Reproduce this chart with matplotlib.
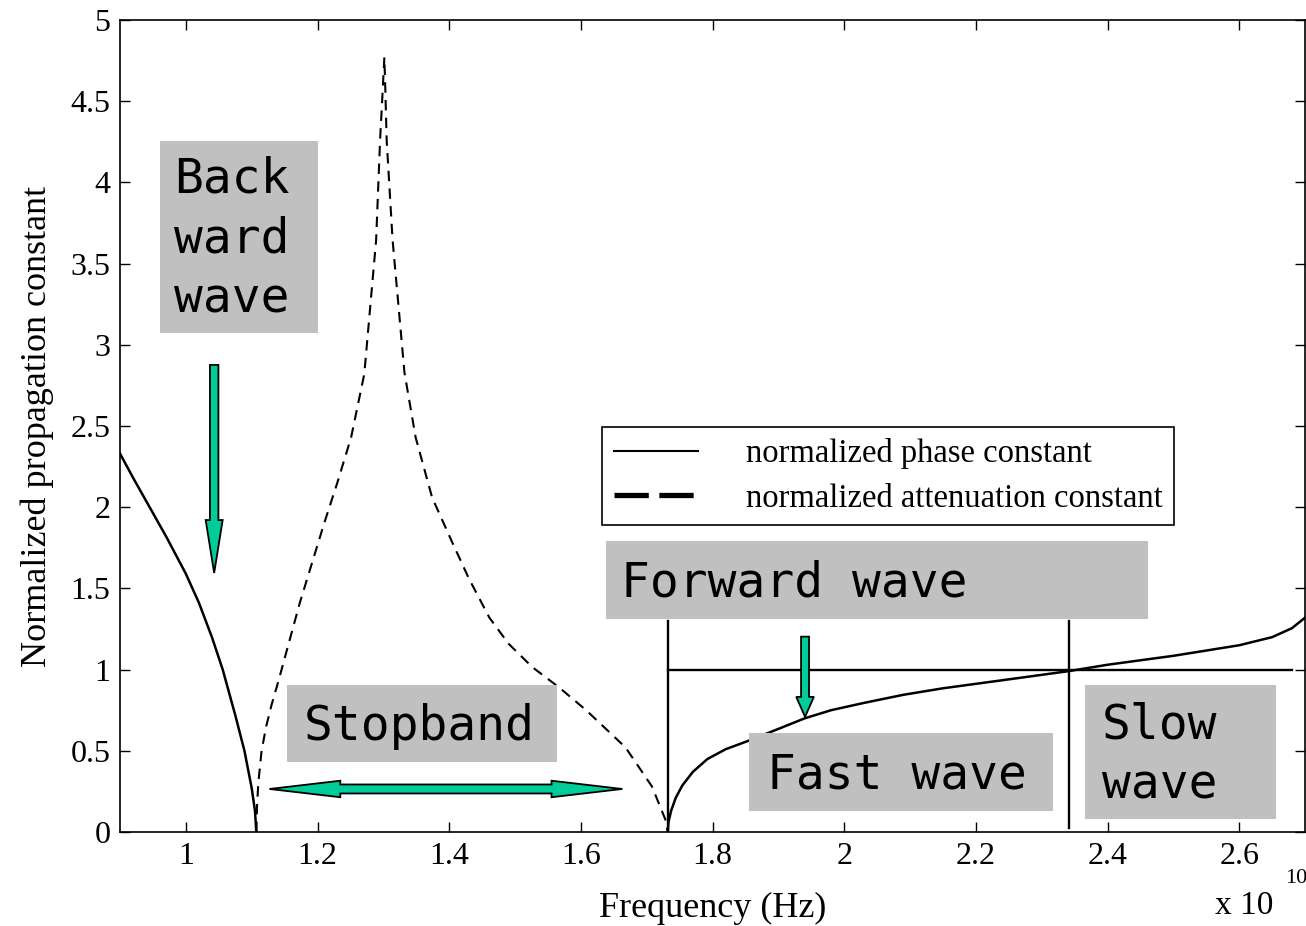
import matplotlib
matplotlib.use('Agg')
import matplotlib.pyplot as plt
import matplotlib.patches as mpatches
from matplotlib.lines import Line2D

# Values (frequency in units of 1e10 Hz)
beta_back_freq = [0.900, 0.920, 0.945, 0.970, 1.000, 1.020, 1.040, 1.056, 1.075,
                  1.089, 1.100, 1.105, 1.107]
beta_back = [2.33, 2.18, 2.00, 1.82, 1.59, 1.41, 1.195, 1.00, 0.72,
             0.50, 0.27, 0.13, 0.00]

alpha_freq = [1.107, 1.108, 1.110, 1.115, 1.122, 1.130, 1.142, 1.173, 1.210, 1.230,
              1.251, 1.271, 1.289, 1.295, 1.299, 1.3015, 1.303, 1.305, 1.314, 1.332,
              1.349, 1.374, 1.405, 1.430, 1.461, 1.490, 1.526, 1.567, 1.608, 1.668,
              1.708, 1.729, 1.732]
alpha = [0.00, 0.15, 0.30, 0.50, 0.65, 0.78, 0.95, 1.41, 1.90, 2.15,
         2.43, 2.82, 3.645, 4.26, 4.57, 4.77, 4.57, 4.26, 3.645, 2.83,
         2.43, 2.06, 1.78, 1.56, 1.32, 1.16, 1.016, 0.89, 0.75, 0.52,
         0.28, 0.07, 0.00]

beta_fwd_freq = [1.732, 1.733, 1.737, 1.744, 1.754, 1.770, 1.792, 1.820, 1.854, 1.900,
                 1.940, 1.980, 2.030, 2.090, 2.150, 2.250, 2.340, 2.400, 2.500, 2.600,
                 2.650, 2.680, 2.700]
beta_fwd = [0.00, 0.06, 0.13, 0.21, 0.286, 0.37, 0.449, 0.51, 0.561, 0.635,
            0.70, 0.75, 0.795, 0.845, 0.885, 0.94, 0.99, 1.03, 1.085, 1.15,
            1.20, 1.255, 1.32]

x_ticks = [1.0, 1.2, 1.4, 1.6, 1.8, 2.0, 2.2, 2.4, 2.6]
x_tick_labels = ['1', '1.2', '1.4', '1.6', '1.8', '2', '2.2', '2.4', '2.6']
y_ticks = [0, 0.5, 1, 1.5, 2, 2.5, 3, 3.5, 4, 4.5, 5]
y_tick_labels = ['0', '0.5', '1', '1.5', '2', '2.5', '3', '3.5', '4', '4.5', '5']

f_cutoff = 1.733   # start of forward band
f_light = 2.341    # where beta crosses 1
beta_light = 1.0
f_line_end = 2.68
marker_top = 1.30

legend_labels = ['normalized phase constant', 'normalized attenuation constant']

# annotation boxes: text, x0, x1, y0, y1, text x, last baseline y
boxes = [
    ('Back\nward\nwave', 0.9606, 1.200, 3.073, 4.255, 0.982, 3.20),
    ('Stopband', 1.153, 1.564, 0.431, 0.905, 1.179, 0.566),
    ('Forward wave', 1.638, 2.462, 1.312, 1.792, 1.661, 1.449),
    ('Fast wave', 1.856, 2.317, 0.131, 0.611, 1.883, 0.269),
    ('Slow\nwave', 2.365, 2.656, 0.078, 0.903, 2.391, 0.2075),
]

green = '#00cc99'
serif = 'Liberation Serif'
mono = 'DejaVu Sans Mono'

plt.rcParams['font.family'] = serif

fig = plt.figure(figsize=(13.06, 9.26), dpi=100)
ax = fig.add_axes([0.0919, 0.1015, 0.9074, 0.8769])

ax.plot(beta_back_freq, beta_back, color='black', lw=1.8)
ax.plot(beta_fwd_freq, beta_fwd, color='black', lw=1.8)
ax.plot(alpha_freq, alpha, color='black', lw=1.5, linestyle=(0, (5, 3.5)))

# region markers
ax.plot([f_cutoff, f_cutoff], [0, marker_top], color='black', lw=1.7)
ax.plot([f_light, f_light], [0.025, marker_top], color='black', lw=1.7)
ax.plot([f_cutoff, f_line_end], [beta_light, beta_light], color='black', lw=1.7)

for text, x0, x1, y0, y1, tx, ty in boxes:
    ax.add_patch(mpatches.Rectangle((x0, y0), x1 - x0, y1 - y0, facecolor='#c0c0c0',
                                    edgecolor='none', zorder=3))
    ax.text(tx, ty, text, family=mono, fontsize=34.5, va='baseline', ha='left',
            linespacing=1.35, zorder=4)

# green arrows
arrow_kw = dict(facecolor=green, edgecolor='black', lw=1.3, zorder=5,
                length_includes_head=True)
ax.add_patch(mpatches.FancyArrow(1.043, 2.876, 0, 1.595 - 2.876, width=0.0129,
                                 head_width=0.0258, head_length=0.326, **arrow_kw))
ax.add_patch(mpatches.FancyArrow(1.9405, 1.203, 0, 0.709 - 1.203, width=0.0121,
                                 head_width=0.0268, head_length=0.123, **arrow_kw))

# double headed arrow across the stopband
xa, xb, ya = 1.127, 1.663, 0.265
sh, hh, hl = 0.0277, 0.0508, 0.1076
verts = [(xa, ya), (xa + hl, ya + hh), (xa + hl, ya + sh), (xb - hl, ya + sh),
         (xb - hl, ya + hh), (xb, ya), (xb - hl, ya - hh), (xb - hl, ya - sh),
         (xa + hl, ya - sh), (xa + hl, ya - hh)]
ax.add_patch(mpatches.Polygon(verts, closed=True, facecolor=green, edgecolor='black',
                              lw=1.3, zorder=5))

ax.set_xlim(0.9, 2.7)
ax.set_ylim(0, 5)
ax.set_xticks(x_ticks)
ax.set_xticklabels(x_tick_labels)
ax.set_yticks(y_ticks)
ax.set_yticklabels(y_tick_labels)
ax.tick_params(direction='in', length=7, width=1.0, top=True, right=True,
               labelsize=23, pad=7)
for s in ax.spines.values():
    s.set_linewidth(1.2)

ax.set_xlabel('Frequency (Hz)', fontsize=26, labelpad=15)
ax.set_ylabel('Normalized propagation constant', fontsize=26, labelpad=12)

handles = [Line2D([], [], color='black', lw=1.5),
           Line2D([], [], color='black', lw=3.8, linestyle=(0, (6.5, 2)))]
leg = ax.legend(handles, legend_labels, loc='upper left', bbox_to_anchor=(0.4068, 0.4988),
                borderaxespad=0, fontsize=23.5, frameon=True, fancybox=False,
                edgecolor='black', framealpha=1, handlelength=2.6, handletextpad=1.45,
                borderpad=0.35, labelspacing=0.42)
leg.get_frame().set_linewidth(1.2)

fig.text(1215 / 1306, 0.013, 'x 10', fontsize=24, va='baseline', ha='left')
fig.text(1285 / 1306, 0.046, '10', fontsize=16, va='baseline', ha='left')

fig.savefig('out.png', dpi=100)
